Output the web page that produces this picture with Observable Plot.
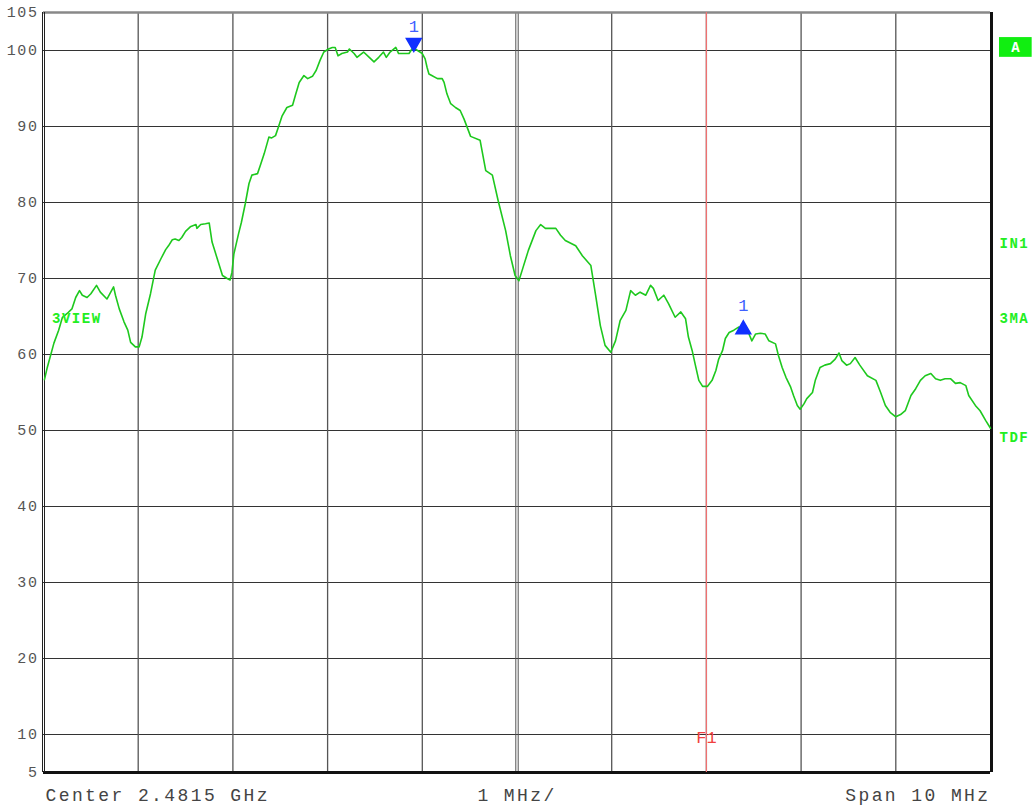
<!DOCTYPE html>
<html>
<head>
<meta charset="utf-8">
<script src="https://cdn.jsdelivr.net/npm/d3@7"></script>
<script src="https://cdn.jsdelivr.net/npm/@observablehq/plot@0.6"></script>
<style>
  html, body { margin: 0; padding: 0; background: #fff; }
  #chart svg { display: block; }
</style>
</head>
<body>
<div id="chart"></div>
<script>
// Frequency offset from centre (MHz) and level (dB) of the trace
const freq = [-4.99,-4.96,-4.89,-4.84,-4.80,-4.75,-4.70,-4.66,-4.62,-4.59,-4.54,-4.50,-4.44,-4.40,-4.33,-4.26,-4.24,-4.20,-4.15,-4.11,-4.08,-4.03,-3.99,-3.96,-3.92,-3.87,-3.82,-3.76,-3.71,-3.68,-3.64,-3.61,-3.57,-3.54,-3.50,-3.45,-3.39,-3.38,-3.34,-3.29,-3.25,-3.22,-3.17,-3.11,-3.06,-3.03,-3.01,-2.99,-2.94,-2.91,-2.87,-2.83,-2.80,-2.74,-2.71,-2.67,-2.62,-2.59,-2.55,-2.52,-2.48,-2.43,-2.37,-2.34,-2.30,-2.25,-2.21,-2.16,-2.12,-2.08,-2.04,-1.99,-1.95,-1.92,-1.89,-1.85,-1.79,-1.77,-1.72,-1.69,-1.62,-1.56,-1.51,-1.46,-1.41,-1.38,-1.34,-1.28,-1.25,-1.20,-1.14,-1.11,-1.09,-1.05,-1.00,-0.97,-0.95,-0.93,-0.90,-0.84,-0.79,-0.77,-0.74,-0.70,-0.65,-0.60,-0.56,-0.49,-0.39,-0.33,-0.26,-0.20,-0.12,-0.07,-0.02,0.02,0.06,0.12,0.20,0.25,0.30,0.41,0.46,0.51,0.62,0.69,0.78,0.83,0.88,0.93,0.99,1.04,1.09,1.15,1.20,1.25,1.30,1.36,1.41,1.44,1.49,1.55,1.60,1.67,1.73,1.78,1.81,1.85,1.88,1.92,1.96,2.01,2.06,2.10,2.13,2.17,2.20,2.24,2.29,2.34,2.40,2.45,2.48,2.52,2.57,2.62,2.66,2.73,2.76,2.80,2.84,2.89,2.92,2.96,2.99,3.03,3.06,3.12,3.15,3.20,3.25,3.31,3.36,3.40,3.43,3.48,3.52,3.57,3.62,3.70,3.79,3.84,3.89,3.94,4.00,4.05,4.10,4.16,4.21,4.26,4.31,4.37,4.42,4.47,4.52,4.58,4.63,4.68,4.74,4.77,4.84,4.89,4.95,5.00];
const level = [56.7,58.3,61.5,63.2,64.9,65.4,66.0,67.5,68.4,67.8,67.5,68.0,69.1,68.2,67.3,68.9,67.8,66.0,64.3,63.2,61.6,61.0,61.0,62.3,65.4,68.0,71.1,72.6,73.8,74.3,75.1,75.2,75.0,75.4,76.2,76.8,77.1,76.6,77.1,77.2,77.3,74.8,72.8,70.4,70.0,69.8,70.8,73.2,75.9,77.4,79.8,82.5,83.6,83.8,84.9,86.4,88.6,88.5,88.8,89.9,91.4,92.5,92.8,94.1,95.8,96.7,96.3,96.6,97.4,98.7,99.8,100.2,100.4,100.4,99.3,99.6,99.8,100.2,99.6,99.1,99.8,99.1,98.5,99.1,99.8,99.1,99.8,100.4,99.6,99.6,99.6,100.2,100.3,100.0,99.6,98.9,97.8,96.9,96.7,96.3,96.3,95.8,94.3,93.0,92.5,92.1,91.0,88.7,88.2,84.2,83.6,80.3,76.3,73.0,70.4,69.7,71.3,73.7,76.3,77.1,76.6,76.6,75.7,75.0,74.3,73.0,71.7,67.8,63.8,61.2,60.3,61.8,64.5,65.8,68.4,67.8,68.2,67.8,69.1,68.7,67.1,67.8,66.7,64.9,65.6,64.7,62.3,60.5,58.8,56.6,55.8,55.8,56.6,57.9,59.4,60.5,62.1,62.9,63.2,63.6,63.4,62.7,61.8,62.7,62.8,62.7,61.8,61.4,59.9,58.3,57.0,55.7,54.6,53.3,52.8,53.5,54.2,55.0,56.6,58.3,58.6,58.8,59.4,60.2,59.2,58.6,58.8,59.6,58.6,57.2,56.6,55.0,53.3,52.4,51.8,52.1,52.6,54.6,55.5,56.6,57.2,57.5,56.8,56.6,56.8,56.8,56.2,56.3,55.9,54.6,53.3,52.6,51.3,50.3];

// Axis ticks / grid
const yTicks = [5,10,20,30,40,50,60,70,80,90,100,105];
const yGrid = [10,20,30,40,50,60,70,80,90,100];
const xGrid = [-4,-3,-2,-1,1,2,3,4];
const xCenter = [0];

// Markers
const markerDown = {f: -1.09, v: 101.0, label: "1", labelV: 103.1};
const markerUp = {f: 2.39, v: 63.3, label: "1", labelV: 66.4};
const f1Line = {f: 2.0, label: "F1", labelV: 9.6};

// Side labels
const sideLabels = ["IN1", "3MA", "TDF"];
const sideLabelLevels = [74.6, 64.7, 49.1];
const traceLabel = {text: "3VIEW", f: -4.91, v: 64.7};
const traceBox = {text: "A", x1: 5.095, x2: 5.44, y1: 99.1, y2: 101.7, v: 100.4};

// Bottom annotations
const bottomLeft = "Center 2.4815 GHz";
const bottomMid = "1 MHz/";
const bottomRight = "Span 10 MHz";

const trace = freq.map((f, i) => ({f, v: level[i]}));
const mono = "Liberation Mono, DejaVu Sans Mono, monospace";
const green = "#1ec81e";
const bottomStyle = {fill: "#444", fontSize: 18, fontFamily: mono, dy: 23};

const chart = Plot.plot({
  width: 1032,
  height: 805,
  marginLeft: 43,
  marginRight: 42,
  marginTop: 12,
  marginBottom: 33,
  style: {fontFamily: mono, background: "#fff"},
  x: {domain: [-5, 5], axis: null},
  y: {domain: [5, 105], axis: null},
  marks: [
    Plot.ruleY(yGrid, {stroke: "#333", strokeWidth: 1}),
    Plot.ruleX(xGrid, {stroke: "#555", strokeWidth: 1.3}),
    Plot.ruleX(xCenter, {stroke: "#555", strokeWidth: 1, dx: -1.2}),
    Plot.ruleX(xCenter, {stroke: "#555", strokeWidth: 1, dx: 1.2}),
    // frame
    Plot.ruleY([105], {stroke: "#888", strokeWidth: 2.5}),
    Plot.ruleY([5], {stroke: "#111", strokeWidth: 3}),
    Plot.ruleX([5], {stroke: "#111", strokeWidth: 3, dx: 1}),
    Plot.ruleX([-5], {stroke: "#222", strokeWidth: 1, dx: -1}),
    Plot.ruleX([-5], {stroke: "#222", strokeWidth: 1, dx: 1}),
    // F1 line
    Plot.ruleX([f1Line], {x: "f", stroke: "#f07070", strokeWidth: 1.2}),
    Plot.text([f1Line], {x: "f", y: "labelV", text: "label", fill: "#f04040", fontSize: 17, fontFamily: mono, textAnchor: "middle"}),
    // trace
    Plot.line(trace, {x: "f", y: "v", stroke: green, strokeWidth: 1.6, curve: "linear"}),
    // markers
    Plot.dot([markerDown], {x: "f", y: "v", symbol: "triangle", r: 5.5, fill: "#1030ff", stroke: "#1030ff", rotate: 180}),
    Plot.dot([markerUp], {x: "f", y: "v", symbol: "triangle", r: 5.5, fill: "#1030ff", stroke: "#1030ff"}),
    Plot.text([markerDown, markerUp], {x: "f", y: "labelV", text: "label", fill: "#4060ff", fontSize: 17, fontFamily: mono}),
    // y tick labels
    Plot.axisY(yTicks, {tickSize: 0, tickPadding: 5, fontSize: 15, color: "#555", fontFamily: mono}),
    // in-plot label
    Plot.text([traceLabel], {x: "f", y: "v", text: "text", fill: "#22ee22", fontWeight: "bold", fontSize: 14, fontFamily: mono, textAnchor: "start"}),
    // right side box and labels
    Plot.rect([traceBox], {x1: "x1", x2: "x2", y1: "y1", y2: "y2", fill: "#11ee11", clip: false}),
    Plot.text([traceBox], {x: "x1", y: "v", text: "text", fill: "#fff", fontWeight: "bold", fontSize: 14, fontFamily: mono, dx: 16}),
    Plot.text(sideLabels, {x: () => 5, y: (d, i) => sideLabelLevels[i], text: d => d, fill: "#22ee22", fontWeight: "bold", fontSize: 14, fontFamily: mono, textAnchor: "start", dx: 9}),
    // bottom texts
    Plot.text([bottomLeft], {x: () => -5, y: () => 5, text: d => d, textAnchor: "start", dx: 2, ...bottomStyle}),
    Plot.text([bottomMid], {x: () => 0, y: () => 5, text: d => d, textAnchor: "middle", ...bottomStyle}),
    Plot.text([bottomRight], {x: () => 5, y: () => 5, text: d => d, textAnchor: "end", ...bottomStyle})
  ]
});
// Letter spacing to mimic the analyzer's wide monospace text
const bottomSet = new Set([bottomLeft, bottomMid, bottomRight]);
const tickSet = new Set(yTicks.map(String));
const sideSet = new Set([...sideLabels, traceLabel.text]);
d3.select(chart).selectAll("text").each(function () {
  const t = this.textContent;
  if (bottomSet.has(t)) this.style.letterSpacing = "2.4px";
  else if (tickSet.has(t)) this.style.letterSpacing = "1.6px";
  else if (sideSet.has(t)) this.style.letterSpacing = "1.5px";
});
document.getElementById("chart").appendChild(chart);
</script>
</body>
</html>
